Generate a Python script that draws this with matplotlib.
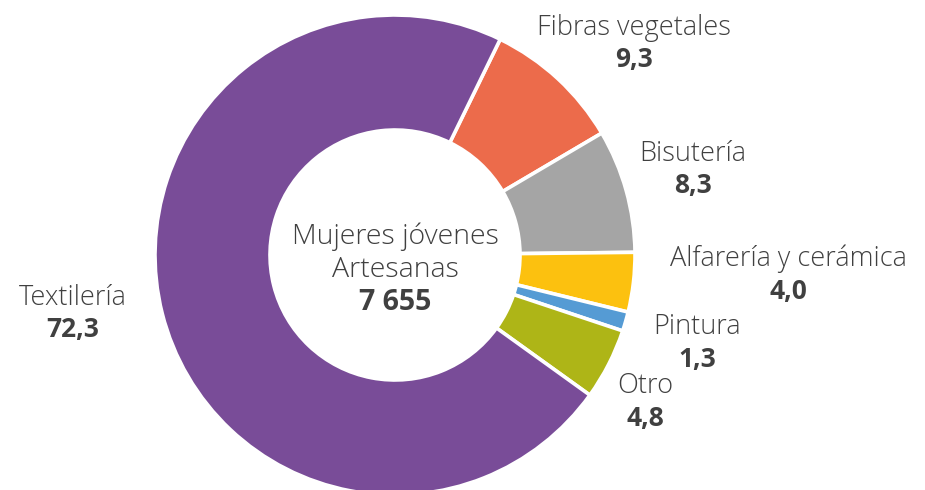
import matplotlib.pyplot as plt

# Datos
categorias = ['Fibras vegetales', 'Bisutería', 'Alfarería y cerámica', 'Pintura', 'Otro', 'Textilería']
valores = [9.3, 8.3, 4.0, 1.3, 4.8, 72.3]
etiquetas_valor = ['9,3', '8,3', '4,0', '1,3', '4,8', '72,3']
colores = ['#EC6B4B', '#A5A5A5', '#FCC10F', '#559BD4', '#AEB517', '#794C98']
total = '7 655'

plt.rcParams['font.family'] = ['Open Sans', 'DejaVu Sans']
gris = '#404040'

fig = plt.figure(figsize=(9.25, 4.9), dpi=100)
ax = fig.add_axes([0, 0, 1, 1])

# Donut en coordenadas de pixel (origen abajo a la izquierda)
cx, cy = 395, 235
ax.pie(valores, colors=colores, startangle=64, counterclock=False,
       center=(cx, cy), radius=240,
       wedgeprops=dict(width=115, edgecolor='white', linewidth=2.6))
ax.set_xlim(0, 925)
ax.set_ylim(0, 490)
ax.set_aspect('equal')
ax.axis('off')

# Etiquetas externas
pos = [(634, 462), (693, 336), (788, 231), (697, 163), (645, 104), (73, 192)]
for (x, y), cat, val in zip(pos, categorias, etiquetas_valor):
    ax.text(x, y, cat, ha='center', va='center', fontsize=19.5, color=gris, fontweight='light')
    ax.text(x, y - 32, val, ha='center', va='center', fontsize=19, color=gris, fontweight='bold')

# Texto central
ax.text(cx, 253, 'Mujeres jóvenes', ha='center', va='center', fontsize=20.5, color=gris, fontweight='light')
ax.text(cx, 220, 'Artesanas', ha='center', va='center', fontsize=20.5, color=gris, fontweight='light')
ax.text(cx, 187, total, ha='center', va='center', fontsize=20.5, color=gris, fontweight='bold')

plt.savefig('out.png', dpi=100)
